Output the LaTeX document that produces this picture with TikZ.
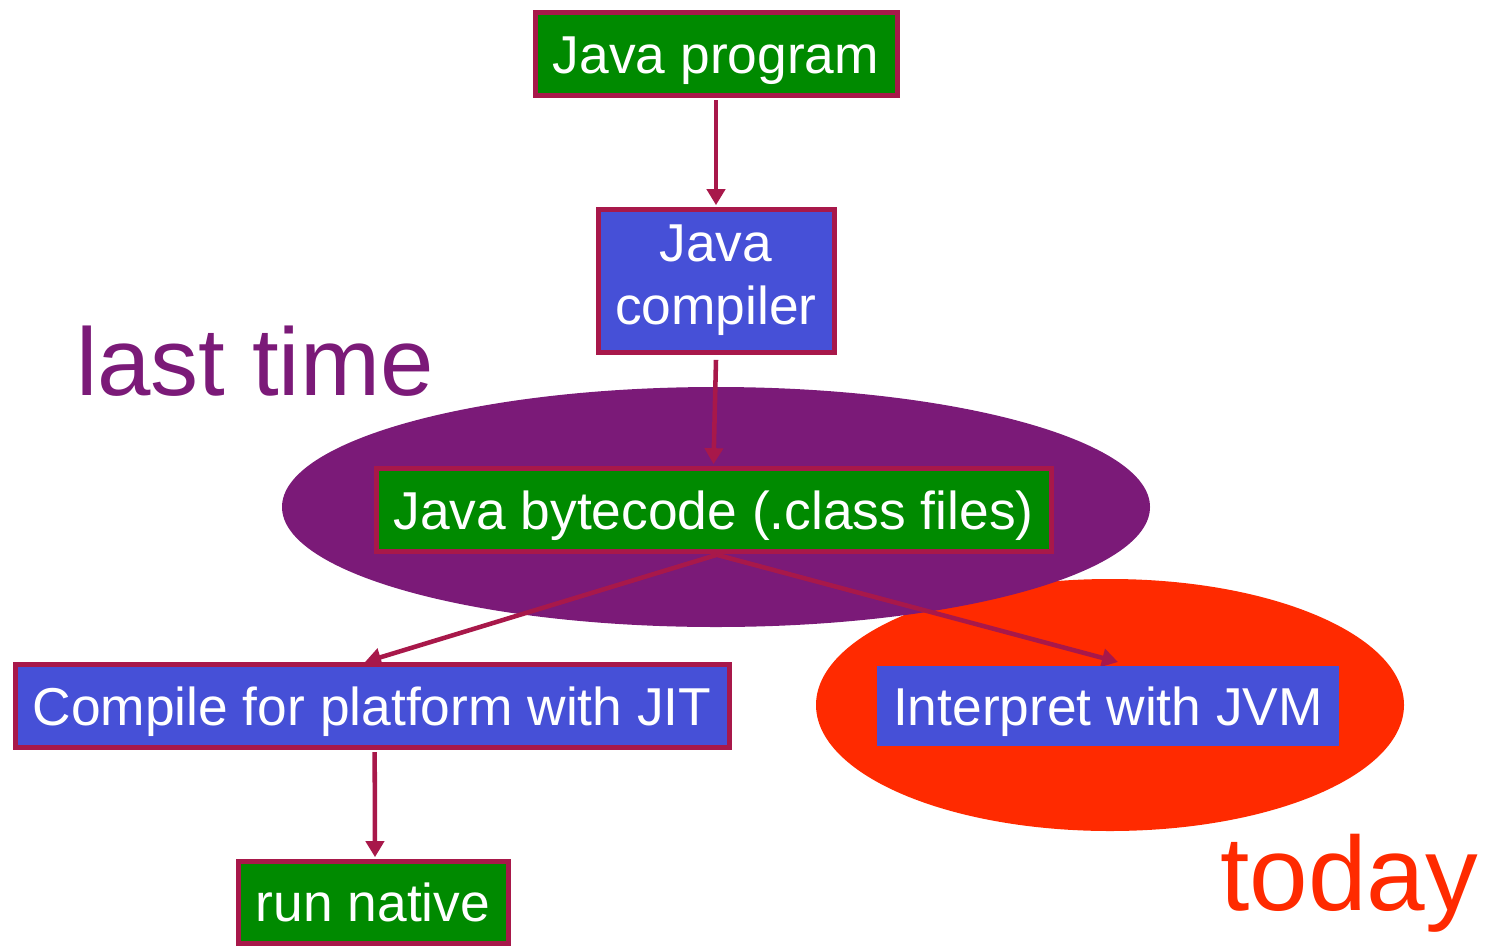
\documentclass[tikz,border=0pt]{standalone}
\usepackage{fontspec}
\setmainfont{Liberation Sans}
\usetikzlibrary{arrows.meta}
\definecolor{boxgreen}{HTML}{008A00}
\definecolor{boxblue}{HTML}{4650D7}
\definecolor{crim}{HTML}{A8184A}
\definecolor{lastpurple}{HTML}{7B1A78}
\definecolor{todayred}{HTML}{FF2A00}
\tikzset{
  boxtext/.style={text=white, font=\fontsize{40}{47}\selectfont, align=center, inner sep=0pt},
  oneline/.style={text height=38pt, text depth=8.4pt},
  greenbox/.style={boxtext, oneline, fill=boxgreen, draw=crim, line width=3.75pt},
  bluebox/.style={boxtext, fill=boxblue, draw=crim, line width=3.75pt},
  plainblue/.style={boxtext, oneline, fill=boxblue},
  arr/.style={draw=crim, line width=3.4pt, -{Triangle[length=12pt,width=13.5pt]}},
}
\begin{document}
\begin{tikzpicture}[x=0.75pt,y=-0.75pt]
\useasboundingbox (0,0) rectangle (1489,947);
% ellipses
\fill[todayred] (1110,705) ellipse [x radius=220.5pt, y radius=94.5pt];
\fill[lastpurple] (716,507) ellipse [x radius=325.5pt, y radius=90pt];
% labels
\node[anchor=base west, inner sep=0pt, text=lastpurple, font=\fontsize{72}{80}\selectfont] (last) at (76,395) {last time};
\node[anchor=base west, inner sep=0pt, text=todayred, font=\fontsize{79}{88}\selectfont] (today) at (1220,910) {today};
% boxes
\node[greenbox, minimum width=271.5pt, minimum height=62.25pt] (prog) at (716,53.5) {Java program};
\node[bluebox, minimum width=177pt, minimum height=107.25pt] (comp) at (716,280.5) {Java\\compiler};
\node[greenbox, minimum width=506.25pt, minimum height=62.25pt] (byte) at (713.5,509.5) {Java bytecode (.class files)};
\node[bluebox, oneline, minimum width=535.5pt, minimum height=62.25pt] (jit) at (372,705.5) {Compile for platform with JIT};
\node[greenbox, minimum width=202.5pt, minimum height=61.5pt] (native) at (373,902) {run native};
% arrows
\coordinate (jitin) at (365,662);
\coordinate (jvmin) at (1118,662);
\draw[arr] ([yshift=-2pt]prog.south) -- ([yshift=1pt]comp.north);
\draw[arr] ([yshift=-4pt]comp.south) -- ([yshift=1pt]byte.north);
\draw[arr] ([xshift=2.5pt,yshift=-1pt]byte.south) -- (jitin);
\draw[arr] ([xshift=2.5pt,yshift=-1pt]byte.south) -- (jvmin);
\draw[arr] ([xshift=2pt,yshift=-2pt]jit.south) -- ([xshift=1.5pt,yshift=1pt]native.north);
\node[plainblue, minimum width=346.5pt, minimum height=60pt] (jvm) at (1108,706) {Interpret with JVM};
\end{tikzpicture}
\end{document}
